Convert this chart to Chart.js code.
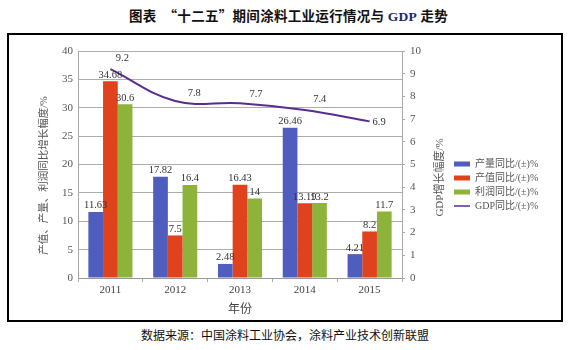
<!DOCTYPE html>
<html><head><meta charset="utf-8">
<script src="https://cdn.jsdelivr.net/npm/chart.js@4"></script>
<style>
html,body{margin:0;padding:0;background:#fff;width:577px;height:350px;overflow:hidden;}
#title{position:absolute;left:0;top:5px;width:577px;text-align:center;font:bold 13.5px "Noto Sans CJK SC";color:#111;white-space:pre;letter-spacing:0.3px;}
#title .g{font-family:"Liberation Serif";color:#1a2a6c;}
#frame{position:absolute;left:7px;top:33px;width:556px;height:289px;border:2px solid #000;box-sizing:border-box;}
#wrap{position:absolute;left:10px;top:37px;width:550px;height:282px;}
#source{position:absolute;left:0;top:326px;width:570px;text-align:center;font:12px "Noto Sans CJK SC";color:#111;}
</style></head>
<body>
<div id="title">图表　“十二五”期间涂料工业运行情况与 <span class="g">GDP</span> 走势</div>
<div id="frame"></div>
<div id="wrap"><canvas id="c"></canvas></div>
<div id="source">数据来源：中国涂料工业协会，涂料产业技术创新联盟</div>
<script>
const categories = ['2011','2012','2013','2014','2015'];
const outputYoY = [11.63, 17.82, 2.48, 26.46, 4.21];
const valueYoY  = [34.68, 7.5, 16.43, 13.19, 8.2];
const profitYoY = [30.6, 16.4, 14, 13.2, 11.7];
const gdpYoY    = [9.2, 7.8, 7.7, 7.4, 6.9];
const seriesNames = ['产量同比/(±)%','产值同比/(±)%','利润同比/(±)%','GDP同比/(±)%'];
const leftTitle = '产值、产量、利润同比增长幅度/%';
const rightTitle = 'GDP增长幅度/%';
const xTitle = '年份';

const SERIF = '"Liberation Serif","Noto Sans CJK SC"';
const gdpLabelOffsets = [[12,-11,'center'],[19,-8,'center'],[16,-9,'center'],[15,-11,'center'],[3,1,'left']];

const valuePlugin = {
  id:'vals',
  afterDatasetsDraw(chart){
    const ctx = chart.ctx;
    ctx.save();
    ctx.font = '10.5px ' + SERIF;
    ctx.fillStyle = '#333';
    chart.data.datasets.forEach((ds,i)=>{
      const meta = chart.getDatasetMeta(i);
      meta.data.forEach((el,j)=>{
        const v = String(ds.data[j]);
        if (ds.type === 'line') {
          const o = gdpLabelOffsets[j];
          ctx.textAlign = o[2]; ctx.textBaseline = 'middle';
          ctx.fillText(v, el.x + o[0], el.y + o[1]);
        } else {
          ctx.textAlign = 'center'; ctx.textBaseline = 'bottom';
          ctx.fillText(v, el.x, el.y - 1);
        }
      });
    });
    ctx.restore();
  },
  afterDraw(chart){
    const ctx = chart.ctx, a = chart.chartArea;
    const mid = (a.top + a.bottom)/2;
    ctx.save();
    ctx.fillStyle = '#555';
    ctx.textAlign = 'center'; ctx.textBaseline = 'middle';
    ctx.font = '10.5px ' + SERIF;
    ctx.translate(34, mid + 11); ctx.rotate(-Math.PI/2); ctx.fillText(leftTitle, 0, 0);
    ctx.restore();
    ctx.save();
    ctx.fillStyle = '#555';
    ctx.textAlign = 'center'; ctx.textBaseline = 'middle';
    ctx.font = '11px ' + SERIF;
    ctx.translate(a.right + 38, mid + 13); ctx.rotate(-Math.PI/2); ctx.fillText(rightTitle, 0, 0);
    ctx.restore();
  }
};

new Chart(document.getElementById('c'), {
  data: {
    labels: categories,
    datasets: [
      {type:'bar', label:seriesNames[0], data:outputYoY, backgroundColor:'#4f5dbf', pointStyle:'rect', yAxisID:'y', order:1},
      {type:'bar', label:seriesNames[1], data:valueYoY, backgroundColor:'#e0421d', pointStyle:'rect', yAxisID:'y', order:1},
      {type:'bar', label:seriesNames[2], data:profitYoY, backgroundColor:'#8db33b', pointStyle:'rect', yAxisID:'y', order:1},
      {type:'line', label:seriesNames[3], data:gdpYoY, borderColor:'#5b2c8f', backgroundColor:'#5b2c8f', borderWidth:2, tension:0.4, pointRadius:0, pointStyle:'line', yAxisID:'y1', order:0}
    ]
  },
  options: {
    responsive:true, maintainAspectRatio:false, animation:false,
    layout:{padding:{left:0, top:14, right:22, bottom:0}},
    datasets:{bar:{categoryPercentage:0.68, barPercentage:1.0, borderWidth:0}},
    plugins:{
      tooltip:{enabled:false},
      legend:{
        position:'right', align:'center',
        labels:{
          usePointStyle:true, pointStyleWidth:16, boxHeight:5, padding:4,
          font:{size:10, family:SERIF}, color:'#555',
          generateLabels(chart){
            return chart.data.datasets.map((ds,i)=>({
              text: ds.label,
              fillStyle: ds.type==='line' ? 'rgba(0,0,0,0)' : ds.backgroundColor,
              strokeStyle: ds.type==='line' ? ds.borderColor : ds.backgroundColor,
              lineWidth: ds.type==='line' ? 1.5 : 0,
              pointStyle: ds.pointStyle,
              fontColor:'#555',
              hidden:false, datasetIndex:i
            }));
          }
        }
      }
    },
    scales:{
      x:{
        grid:{offset:true, drawOnChartArea:false, tickLength:4, color:'#aaa'},
        border:{color:'#999'},
        ticks:{padding:2, font:{size:11, family:SERIF}, color:'#444'},
        title:{display:true, text:xTitle, font:{size:12, family:SERIF}, color:'#444', padding:{top:0,bottom:2}},
        afterFit(s){ s.height = 41; }
      },
      y:{
        position:'left', min:0, max:40,
        ticks:{stepSize:5, padding:5, font:{size:11, family:SERIF}, color:'#555'},
        grid:{drawTicks:false, color:'#adadad'},
        border:{color:'#aaa'},
        afterFit(s){ s.width = 68; }
      },
      y1:{
        position:'right', min:0, max:10,
        ticks:{stepSize:1, padding:5, font:{size:11, family:SERIF}, color:'#555'},
        grid:{drawOnChartArea:false, tickLength:3, color:'#aaa'},
        border:{color:'#aaa'},
        afterFit(s){ s.width = 48; }
      }
    }
  },
  plugins:[valuePlugin]
});
</script>
</body></html>
